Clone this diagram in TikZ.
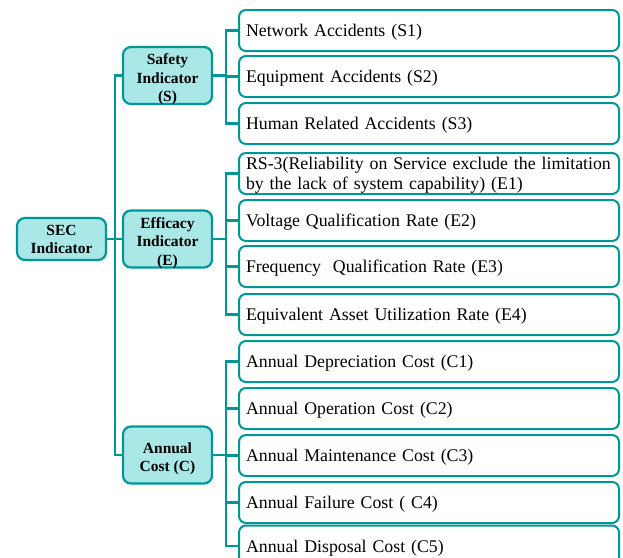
\documentclass[tikz,border=0pt]{standalone}
\usepackage{fontspec}
\setmainfont{Liberation Serif}
\definecolor{tealline}{RGB}{0,150,150}
\definecolor{tealfill}{RGB}{170,232,232}
\begin{document}
\begin{tikzpicture}[x=1pt, y=-1pt,
  link/.style={draw=tealline, line width=2.2pt},
  rootbox/.style={draw=tealline, fill=tealfill, line width=2.2pt, rounded corners=8pt,
    minimum width=89pt, minimum height=42pt, inner sep=0pt, align=center,
    font=\fontsize{15.5}{18}\selectfont\bfseries},
  catbox/.style={draw=tealline, fill=tealfill, line width=2.2pt, rounded corners=8pt,
    minimum width=89pt, minimum height=57pt, inner sep=0pt},
  cattext/.style={align=center, inner sep=0pt, yshift=-4pt,
    font=\fontsize{15.5}{18.5}\selectfont\bfseries},
  leaf/.style={draw=tealline, line width=2pt, rounded corners=7pt, anchor=west,
    minimum width=380pt, minimum height=41pt, inner xsep=7pt, inner ysep=0pt,
    text width=366pt, text depth=0pt, align=left, font=\fontsize{17.8}{19.5}\selectfont}]
  \clip (0,0) rectangle (623,557);

  % first and second level
  \node[rootbox] (sec) at (61.5,239) {SEC\\Indicator};
  \node[catbox] (safe) at (167.5,75.5) {};
  \node[cattext] (safe-t) at (safe) {Safety\\Indicator\\(S)};
  \node[catbox] (eff) at (167.5,239) {};
  \node[cattext] (eff-t) at (eff) {Efficacy\\Indicator\\(E)};
  \node[catbox] (cost) at (167.5,455) {};
  \node[cattext] (cost-t) at (cost) {Annual\\Cost (C)};

  % leaves
  \node[leaf] (s1) at (238,30.5) {Network Accidents (S1)};
  \node[leaf] (s2) at (238,76.5) {Equipment Accidents (S2)};
  \node[leaf] (s3) at (238,123.5) {Human Related Accidents (S3)};
  \node[leaf, text depth=19.5pt] (e1) at (238,173.5) {RS-3(Reliability on Service exclude the limitation by the lack of system capability) (E1)};
  \node[leaf] (e2) at (238,220.5) {Voltage Qualification Rate (E2)};
  \node[leaf] (e3) at (238,266.5) {Frequency\ \ Qualification Rate (E3)};
  \node[leaf] (e4) at (238,314.5) {Equivalent Asset Utilization Rate (E4)};
  \node[leaf] (c1) at (238,361.5) {Annual Depreciation Cost (C1)};
  \node[leaf] (c2) at (238,408.5) {Annual Operation Cost (C2)};
  \node[leaf] (c3) at (238,455.5) {Annual Maintenance Cost (C3)};
  \node[leaf] (c4) at (238,502.5) {Annual Failure Cost ( C4)};
  \node[leaf] (c5) at (238,546) {Annual Disposal Cost (C5)};

  % connectors
  \foreach \c in {safe,eff,cost}
    \draw[link] (sec.east) -- ++(8,0) |- (\c.west);
  \foreach \l in {s1,s2,s3}
    \draw[link] (safe.east) -- ++(13,0) |- (\l.west);
  \foreach \l in {e1,e2,e3,e4}
    \draw[link] (eff.east) -- ++(13,0) |- (\l.west);
  \foreach \l in {c1,c2,c3,c4,c5}
    \draw[link] (cost.east) -- ++(13,0) |- (\l.west);
\end{tikzpicture}
\end{document}
